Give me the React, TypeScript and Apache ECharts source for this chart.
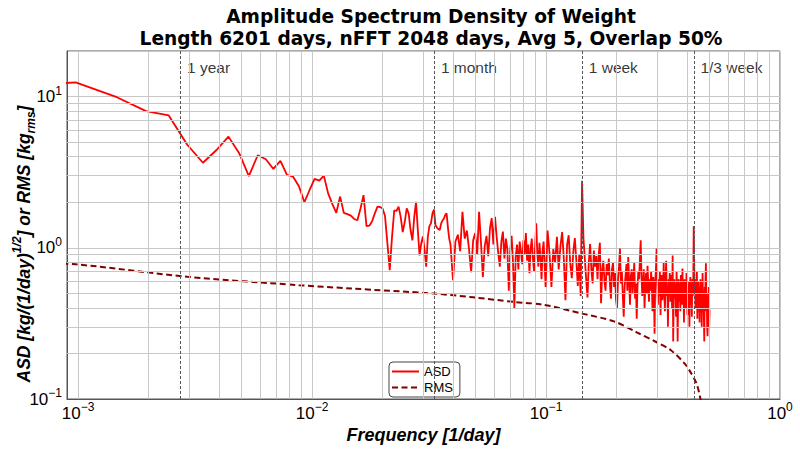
import React, { useEffect, useRef } from 'react';
import * as echarts from 'echarts';

// FFT bin spacing: frequency = k / NFFT  [1/day]
const NFFT = 2048;

// ASD values, per FFT bin segment
const ASD_LOW_K0 = 1; // bins 1..79, every bin
const ASD_LOW = [
  11.6, 12.4, 9.9, 8.0, 7.5, 4.8, 3.65, 4.43, 5.43, 4.22,
  2.98, 4.09, 3.85, 3.32, 3.75, 3.03, 2.95, 2.55, 2.0, 2.41,
  2.85, 2.78, 3.0, 2.29, 1.95, 1.7, 2.18, 1.7, 1.67, 1.63,
  1.55, 1.52, 1.82, 2.23, 1.39, 1.4, 1.5, 1.69, 1.87, 1.86,
  1.82, 1.62, 1.07, 0.71, 1.18, 1.77, 1.75, 1.87, 1.6, 1.27,
  1.48, 1.82, 1.69, 1.31, 1.12, 1.6, 2.01, 1.31, 0.89, 1.07,
  1.19, 0.96, 0.75, 1.18, 1.39, 1.45, 1.69, 1.79, 1.41, 1.36,
  1.33, 1.31, 1.45, 1.52, 1.56, 1.65, 1.69, 1.36, 1.15,
];
const ASD_MID_K0 = 80; // bins 80..200, every 2nd bin
const ASD_MID = [
  1.05, 0.61, 1.1, 1.22, 0.95, 1.73, 1.15, 1.3, 0.98, 0.69,
  1.12, 1.25, 0.9, 1.73, 1.08, 0.64, 1.02, 1.2, 0.88, 1.35,
  1.57, 1.05, 1.6, 1.18, 0.92, 0.75, 1.1, 1.28, 0.85, 1.15,
  0.98, 0.52, 0.95, 1.2, 0.8, 0.4, 0.88, 1.05, 0.72, 1.1,
  0.95, 0.78, 1.12, 0.9, 1.25, 0.82, 1.05, 0.68, 0.98, 1.15,
  0.85, 0.7, 1.02, 1.45, 0.92, 0.75, 1.08, 0.86, 0.62, 0.95, 1.1,
];
const ASD_H1_K0 = 204; // bins 204..288, every 4th bin
const ASD_H1 = [
  0.55, 1.3, 0.92, 0.55, 0.98, 0.8, 1.18, 0.72, 1.02, 1.27, 0.85,
  0.45, 1.05, 1.21, 0.78, 0.63, 0.95, 1.16, 0.82, 0.56, 0.9, 0.48,
];
const ASD_WEEK_K0 = 292; // 1-week line
const ASD_WEEK = [2.77];
const ASD_H2_K0 = 296; // bins 296..400, every 4th bin
const ASD_H2 = [
  1.16, 0.85, 0.62, 0.47, 0.8, 1.06, 0.72, 0.58, 0.96, 0.75, 0.88, 0.62, 0.9, 1.08,
  0.43, 0.7, 0.82, 0.6, 0.52, 0.78, 0.66, 0.85, 0.58, 0.46, 0.72, 0.8, 0.55,
];
const ASD_H3_K0 = 404; // bins 404..600, every 4th bin
const ASD_H3 = [
  0.68, 0.45, 0.4, 0.62, 0.75, 0.99, 0.58, 0.7, 0.48, 0.35,
  0.55, 0.66, 0.78, 0.52, 0.87, 0.6, 0.42, 0.65, 0.72, 0.5,
  0.62, 0.8, 0.46, 0.58, 0.34, 0.56, 0.7, 0.62, 0.85, 1.12,
  0.66, 0.48, 0.58, 0.72, 0.4, 0.55, 0.68, 0.5, 0.76, 0.6,
  0.44, 0.62, 0.52, 0.7, 0.58, 0.38, 0.64, 0.55, 0.27, 0.6,
];
const ASD_H4_K0 = 604; // bins 604..872, every 4th bin
const ASD_H4 = [
  0.72, 0.99, 0.56, 0.42, 0.62, 0.48, 0.7, 0.36, 0.58, 0.66,
  0.45, 0.55, 0.8, 0.5, 0.38, 0.6, 0.82, 0.48, 0.56, 0.3,
  0.62, 0.52, 0.68, 0.44, 0.58, 0.66, 0.4, 0.89, 0.24, 0.55,
  0.62, 0.46, 0.58, 0.35, 0.7, 0.5, 0.24, 0.52, 0.62, 0.44,
  0.58, 0.38, 0.66, 0.5, 0.42, 0.73, 0.48, 0.56, 0.32, 0.62,
  0.45, 0.55, 0.4, 0.68, 0.5, 0.36, 0.6, 0.46, 0.54, 0.3,
  0.58, 0.64, 0.42, 0.52, 0.35, 0.62, 0.48, 0.56,
];
const ASD_THIRD_K0 = 876; // 1/3-week line
const ASD_THIRD = [1.39];
const ASD_H5_K0 = 880; // bins 880..1024, every 4th bin
const ASD_H5 = [
  0.85, 0.5, 0.62, 0.4, 0.58, 0.45, 0.7, 0.34, 0.52, 0.6,
  0.38, 0.55, 0.32, 0.48, 0.62, 0.42, 0.56, 0.3, 0.5, 0.68,
  0.4, 0.52, 0.36, 0.24, 0.55, 0.44, 0.62, 0.79, 0.38, 0.5,
  0.3, 0.26, 0.48, 0.35, 0.55, 0.3, 0.39,
];

// RMS curve (bin index, value)
const RMS_K = [1, 2, 6, 18, 30, 68, 100, 150, 200, 292, 400, 500, 600, 700, 800, 850, 900, 930, 960, 1000, 1023];
const RMS_V = [0.81, 0.777, 0.643, 0.566, 0.538, 0.498, 0.47, 0.438, 0.42, 0.367, 0.326, 0.276, 0.24, 0.21, 0.172, 0.15, 0.127, 0.105, 0.08, 0.045, 0.01];

// Reference period markers
const MARKER_F = [1 / 365, 1 / 30, 1 / 7, 3 / 7];
const MARKER_LABELS = ['1 year', '1 month', '1 week', '1/3 week'];
const MARKER_LABEL_Y = 15.5;

// Axis ranges
const X_MIN = 0.000897;
const X_MAX = 1;
const Y_MIN = 0.1;
const Y_MAX = 20;
const X_DECADES = [0.001, 0.01, 0.1];
const Y_DECADES = [0.1, 1];
const MINOR_MULT = [2, 3, 4, 5, 6, 7, 8, 9];

const FONT = 'Liberation Sans';

function segment(k0: number, step: number, values: number[]) {
  return values.map((v, i) => [(k0 + i * step) / NFFT, v]);
}

function logLabel(v: number) {
  const l = Math.log10(v);
  const e = Math.round(l);
  if (Math.abs(l - e) > 1e-6) return '';
  const sup = e < 0 ? '\u2212' + Math.abs(e) : String(e);
  return '{b|10}{s|' + sup + '}';
}

const labelRich = {
  b: { fontSize: 17, fontFamily: FONT, color: '#000', lineHeight: 24 },
  s: { fontSize: 12, fontFamily: FONT, color: '#000', lineHeight: 13, verticalAlign: 'top' },
};

const nameBold = { fontFamily: FONT, fontWeight: 'bold', fontStyle: 'italic', color: '#000' };

export default function App() {
  const ref = useRef<HTMLDivElement>(null);
  useEffect(() => {
    if (!ref.current) return;
    const chart = echarts.init(ref.current, null, { renderer: 'svg' });

    const asd = [
      ...segment(ASD_LOW_K0, 1, ASD_LOW),
      ...segment(ASD_MID_K0, 2, ASD_MID),
      ...segment(ASD_H1_K0, 4, ASD_H1),
      ...segment(ASD_WEEK_K0, 4, ASD_WEEK),
      ...segment(ASD_H2_K0, 4, ASD_H2),
      ...segment(ASD_H3_K0, 4, ASD_H3),
      ...segment(ASD_H4_K0, 4, ASD_H4),
      ...segment(ASD_THIRD_K0, 4, ASD_THIRD),
      ...segment(ASD_H5_K0, 4, ASD_H5),
    ];
    const rms = RMS_K.map((k, i) => [k / NFFT, RMS_V[i]]);

    const xMinor: number[] = [];
    X_DECADES.forEach((d) => MINOR_MULT.forEach((m) => xMinor.push(m * d)));
    const yMinor: number[] = [];
    Y_DECADES.forEach((d) => MINOR_MULT.forEach((m) => yMinor.push(m * d)));

    chart.setOption({
      animation: false,
      backgroundColor: '#fff',
      title: {
        text: 'Amplitude Spectrum Density of Weight\nLength 6201 days, nFFT 2048 days, Avg 5, Overlap 50%',
        left: 431,
        top: 5,
        padding: 0,
        textAlign: 'center',
        textStyle: { fontFamily: 'DejaVu Sans', fontWeight: 'bold', fontSize: 18.6, lineHeight: 22, color: '#000' },
      },
      legend: {
        data: ['ASD', 'RMS'],
        orient: 'vertical',
        left: 389,
        top: 362,
        itemWidth: 27,
        itemHeight: 10,
        itemGap: 3,
        padding: [3, 7, 3, 2],
        backgroundColor: '#fff',
        borderColor: '#444',
        borderWidth: 1,
        borderRadius: 4,
        itemStyle: { opacity: 0 },
        textStyle: { fontFamily: FONT, fontSize: 13, color: '#000' },
      },
      grid: {
        left: 67, right: 20, top: 51, bottom: 53,
        outerBoundsMode: 'none',
        containLabel: false,
        show: true, borderColor: '#555', borderWidth: 1,
      },
      xAxis: {
        type: 'log',
        logBase: 10,
        min: X_MIN,
        max: X_MAX,
        name: 'Frequency [1/day]',
        nameLocation: 'middle',
        nameGap: 26,
        nameTextStyle: { ...nameBold, fontSize: 18 },
        axisLine: { show: true, lineStyle: { color: '#555' } },
        axisTick: { show: false },
        axisLabel: { formatter: logLabel, rich: labelRich, margin: 2, showMinLabel: true, showMaxLabel: true },
        splitLine: { show: true, lineStyle: { color: '#c8c8c8', width: 1 } },
      },
      yAxis: {
        type: 'log',
        logBase: 10,
        min: Y_MIN,
        max: Y_MAX,
        name: '{a|ASD [kg/(1/day)}{s|1/2}{a|] or RMS [kg}{r|rms}{a|]}',
        nameLocation: 'middle',
        nameGap: 30,
        nameMoveOverlap: false,
        nameRotate: 90,
        nameTextStyle: {
          padding: [0, 38, 0, 0],
          rich: {
            a: { ...nameBold, fontSize: 17.5, lineHeight: 26 },
            s: { ...nameBold, fontSize: 12, lineHeight: 14, verticalAlign: 'top' },
            r: { ...nameBold, fontSize: 12, lineHeight: 14, verticalAlign: 'bottom' },
          },
        },
        axisLine: { show: true, lineStyle: { color: '#555' } },
        axisTick: { show: false },
        axisLabel: { formatter: logLabel, rich: labelRich, margin: 5 },
        splitLine: { show: true, lineStyle: { color: '#c8c8c8', width: 1 } },
      },
      series: [
        {
          name: 'minor-grid',
          type: 'line',
          data: [],
          z: 1,
          silent: true,
          markLine: {
            silent: true,
            precision: 8,
            symbol: 'none',
            label: { show: false },
            lineStyle: { color: '#c8c8c8', width: 1, type: 'solid' },
            data: [...xMinor.map((v) => ({ xAxis: v })), ...yMinor.map((v) => ({ yAxis: v }))],
          },
        },
        {
          name: 'markers',
          type: 'scatter',
          z: 2,
          silent: true,
          symbolSize: 1,
          itemStyle: { color: 'rgba(0,0,0,0)' },
          data: MARKER_F.map((f, i) => ({ value: [f, MARKER_LABEL_Y], name: MARKER_LABELS[i] })),
          label: {
            show: true,
            position: 'right',
            distance: 6,
            formatter: '{b}',
            fontFamily: FONT,
            fontSize: 15.5,
            color: '#000',
          },
          markLine: {
            silent: true,
            precision: 8,
            symbol: 'none',
            label: { show: false },
            lineStyle: { color: '#555', width: 1, type: [3, 2] },
            data: MARKER_F.map((f) => ({ xAxis: f })),
          },
        },
        {
          name: 'ASD',
          type: 'line',
          z: 3,
          data: asd,
          symbol: 'none',
          clip: true,
          color: '#ff0000',
          lineStyle: { color: '#ff0000', width: 1.8 },
        },
        {
          name: 'RMS',
          type: 'line',
          z: 4,
          data: rms,
          symbol: 'none',
          smooth: 0.3,
          clip: true,
          color: '#800000',
          lineStyle: { color: '#800000', width: 2, type: [6, 3.5] },
        },
      ],
    });
    return () => chart.dispose();
  }, []);
  return <div ref={ref} style={{ position: 'fixed', left: 0, top: 0, width: 800, height: 452 }} />;
}
